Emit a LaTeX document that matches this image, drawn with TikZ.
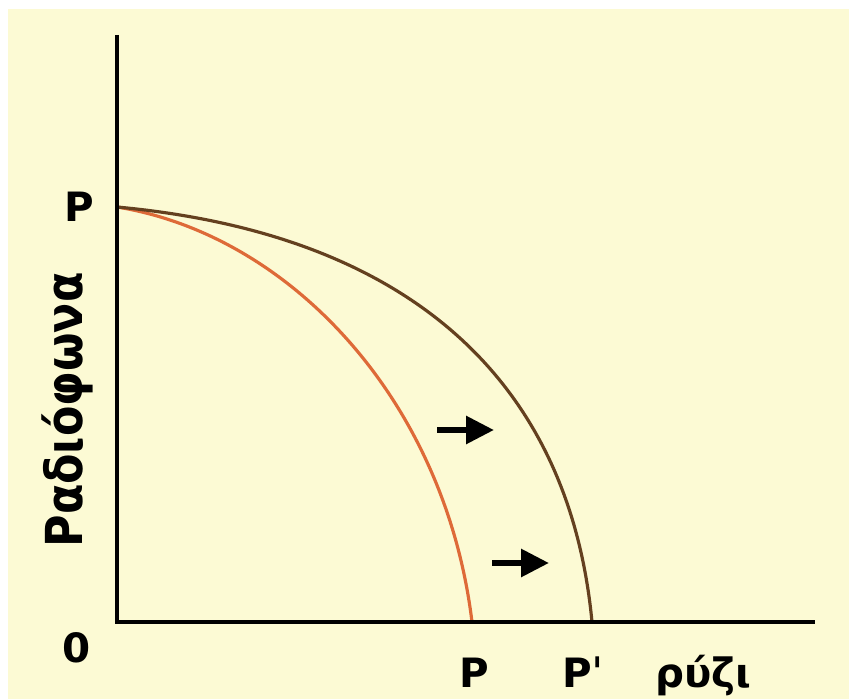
\documentclass[tikz,border=0pt]{standalone}
\usepackage{fontspec}
\setmainfont{DejaVu Sans}
\usetikzlibrary{arrows.meta}
\definecolor{paper}{HTML}{FCFAD4}
\definecolor{curveA}{HTML}{DE6A38}
\definecolor{curveB}{HTML}{64401F}

\begin{document}
\begin{tikzpicture}[x=0.02cm, y=-0.02cm,
  lbl/.style={inner sep=0pt, font=\bfseries\fontsize{23}{26}\selectfont},
  shift arrow/.style={-{Triangle[length=0.56cm, width=0.54cm]}, line width=3.4pt}]
\useasboundingbox (0,0) rectangle (849,699);
\fill[paper] (8,9) rectangle (849,699);
\coordinate (O) at (117,622);
\coordinate (Ytop) at (117,35);
\coordinate (Xend) at (815,622);
\coordinate (A) at (117,207);
\coordinate (B) at (472,622);
\coordinate (C) at (592,622);
\draw[curveA, line width=1.8pt] (A) .. controls (290,235) and (445,400) .. (B);
\draw[curveB, line width=1.8pt] (A) .. controls (420,235) and (570,390) .. (C);
\draw[line width=2.4pt] (Ytop) -- (O) -- (Xend);
% shift arrows
\coordinate (s1) at (437,430);
\coordinate (e1) at (494,430);
\coordinate (s2) at (492,563);
\coordinate (e2) at (549,563);
\draw[shift arrow] (s1) -- (e1);
\draw[shift arrow] (s2) -- (e2);
% labels
\node[lbl, anchor=base] (ptop) at (79,222) {P};
\node[lbl, anchor=base] (zero) at (77,662) {0};
\node[lbl, anchor=base] (pleft) at (474,687) {P};
\node[lbl, anchor=base west] (pright) at (562,687) {Pˈ};
\node[lbl, anchor=base west] (rice) at (655,687) {ρύζι};
\node[lbl, font=\bfseries\fontsize{29}{32}\selectfont, rotate=90, anchor=base] (radio) at (82,410) {\scalebox{0.87}[1]{Ραδιόφωνα}};
\end{tikzpicture}
\end{document}
